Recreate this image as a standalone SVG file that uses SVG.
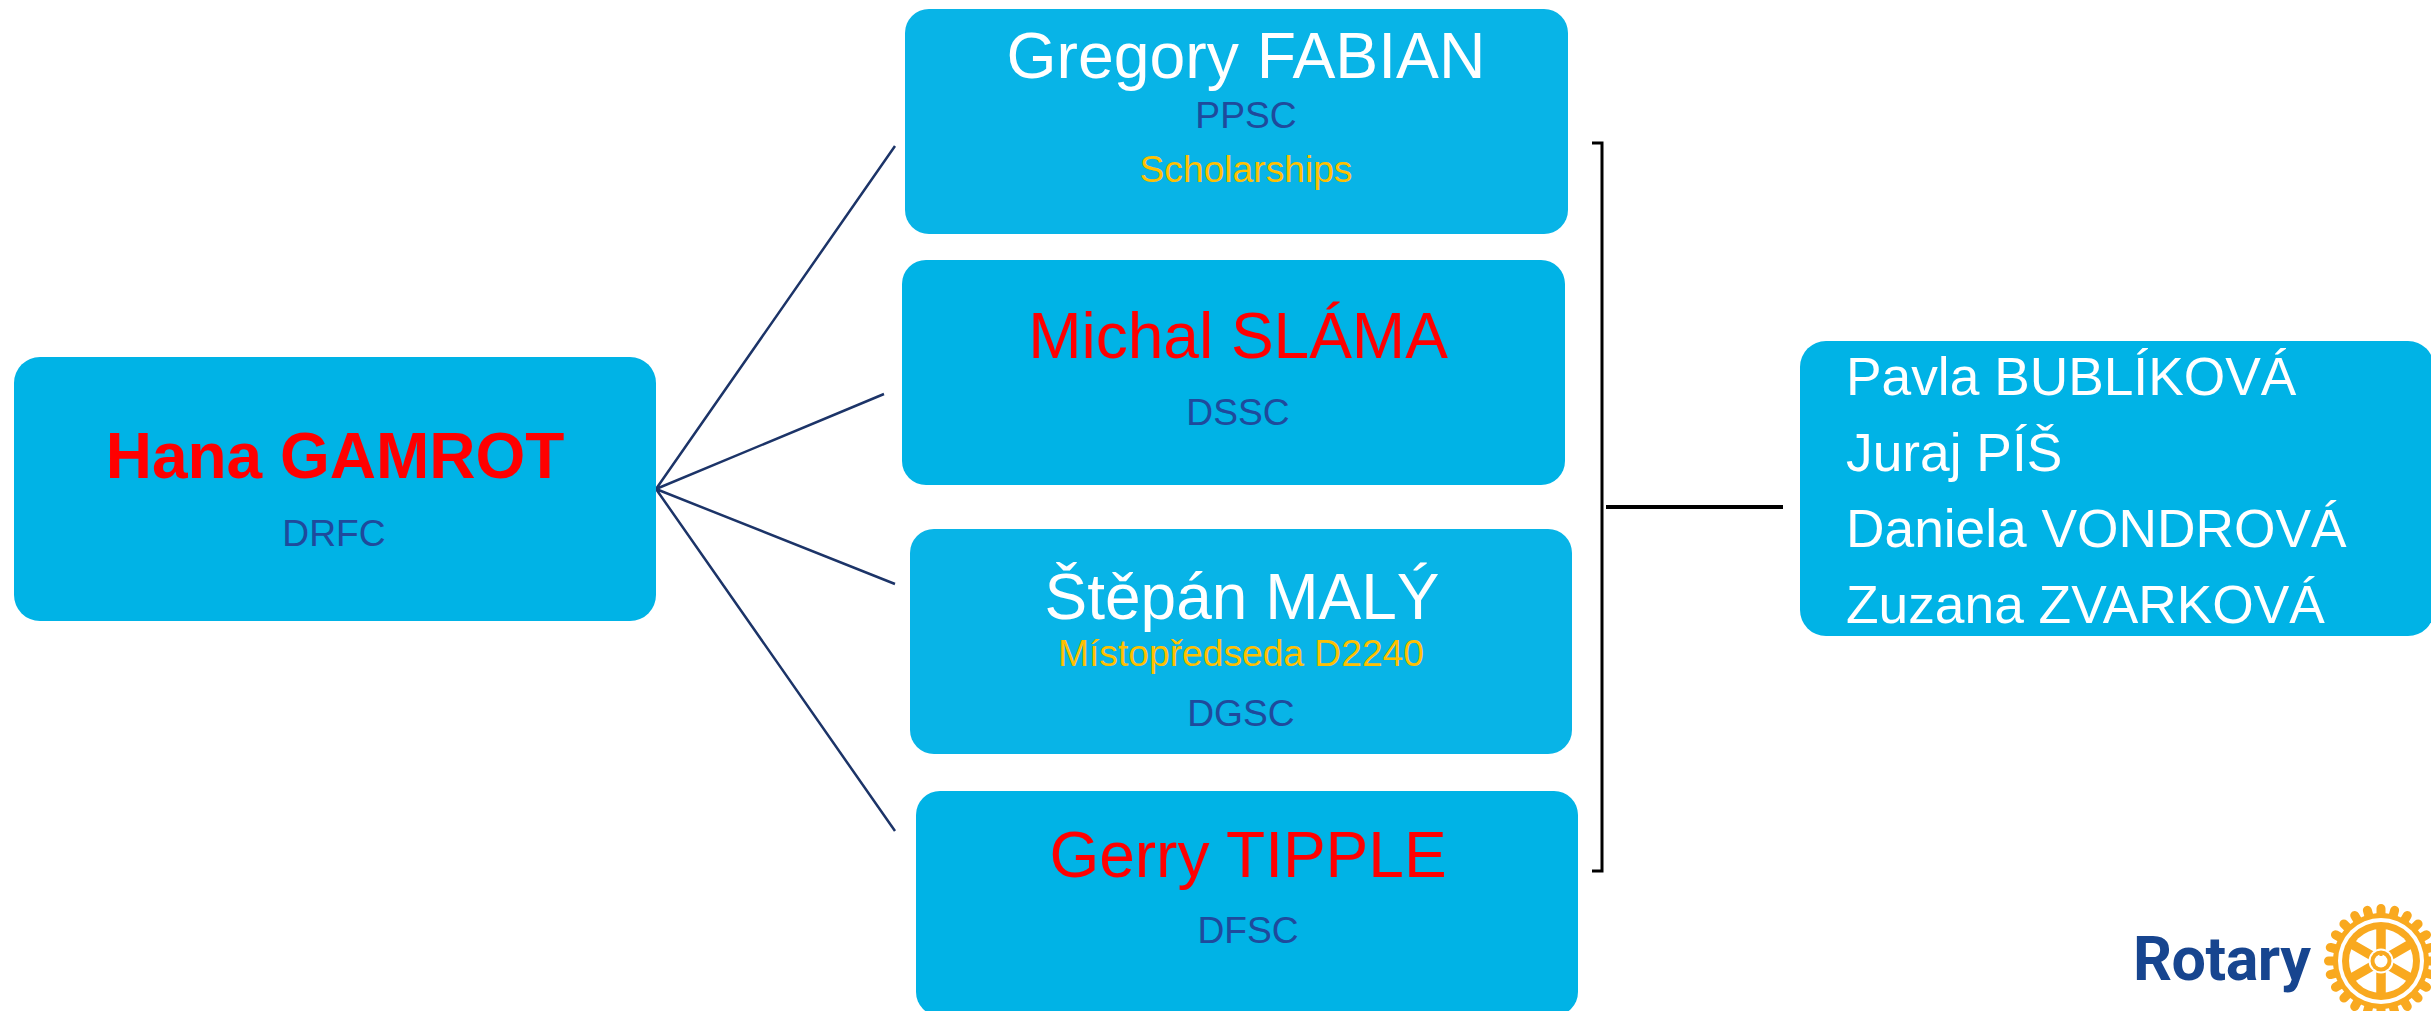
<svg xmlns="http://www.w3.org/2000/svg" width="2431" height="1011" viewBox="0 0 2431 1011">
<style>
text{font-family:"Liberation Sans",Arial,sans-serif}
.a{fill:#00b3e6}.b{fill:#08b4e7}
.n{font-size:64px;text-anchor:middle}
.s{font-size:37.2px;text-anchor:middle;fill:#1f4a9c}
.g{font-size:37.2px;text-anchor:middle;fill:#ffc000}
.r{fill:#ff0000}.w{fill:#ffffff}
.l{font-size:53.3px;fill:#ffffff}
.c{stroke:#1c3468;stroke-width:2.5;fill:none}
.k{stroke:#000;stroke-width:3;fill:none}
.o{fill:#f9a91f}.h{fill:#fff}
</style>
<g id="connectors">
<path class="c" d="M656 489L895 146M656 489L884 394M656 489L895 584M656 489L895 831"/>
<path class="k" d="M1592 143H1602V871H1592"/>
<path class="k" style="stroke-width:4" d="M1606 507H1783"/>
</g>
<g id="hana"><rect class="a" x="14" y="357" width="642" height="264" rx="26"/>
<text class="n r" x="335" y="478" font-weight="700">Hana GAMROT</text><text class="s" x="334" y="546">DRFC</text></g>
<g id="gregory"><rect class="b" x="905" y="9" width="663" height="225" rx="24"/>
<text class="n w" x="1246" y="78" style="font-size:64.3px">Gregory FABIAN</text><text class="s" x="1246" y="128">PPSC</text><text class="g" x="1246" y="182">Scholarships</text></g>
<g id="michal"><rect class="a" x="902" y="260" width="663" height="225" rx="24"/>
<text class="n r" x="1238" y="358">Michal SLÁMA</text><text class="s" x="1238" y="425">DSSC</text></g>
<g id="stepan"><rect class="b" x="910" y="529" width="662" height="225" rx="24"/>
<text class="n w" x="1242" y="619">Štěpán MALÝ</text><text class="g" x="1241" y="666">Místopředseda D2240</text><text class="s" x="1241" y="726">DGSC</text></g>
<g id="gerry"><rect class="a" x="916" y="791" width="662" height="225" rx="24"/>
<text class="n r" x="1248" y="877">Gerry TIPPLE</text><text class="s" x="1248" y="943">DFSC</text></g>
<g id="members"><rect class="a" x="1800" y="341" width="634" height="295" rx="26"/>
<text class="l" x="1846" y="395">Pavla BUBLÍKOVÁ</text><text class="l" x="1846" y="471">Juraj PÍŠ</text><text class="l" x="1846" y="547">Daniela VONDROVÁ</text><text class="l" x="1846" y="623">Zuzana ZVARKOVÁ</text></g>
<g id="logo">
<text x="2133" y="980" font-weight="700" font-size="61" letter-spacing="-0.5" fill="#17458f" style="font-family:Roboto,sans-serif">Rotary</text>
<g transform="translate(2381 961)">
<path stroke="#f9a91f" stroke-width="9" stroke-linecap="round" d="M52.5 0H-52.5M50.7 13.6L-50.7-13.6M45.5 26.25L-45.5-26.25M37.1 37.1L-37.1-37.1M26.25 45.5L-26.25-45.5M13.6 50.7L-13.6-50.7M0 52.5V-52.5M-13.6 50.7L13.6-50.7M-26.25 45.5L26.25-45.5M-37.1 37.1L37.1-37.1M-45.5 26.25L45.5-26.25M-50.7 13.6L50.7-13.6"/>
<circle class="o" r="48"/><circle class="h" r="43"/><circle class="o" r="39"/><circle class="h" r="32"/>
<path stroke="#f9a91f" stroke-width="9.5" d="M0-33V33M-28.6-16.5L28.6 16.5M-28.6 16.5L28.6-16.5"/>
<circle class="h" r="12.5"/><circle class="o" r="10.5"/><circle class="h" r="6.5"/><rect class="o" x="-1.5" y="-10" width="3" height="5"/>
</g></g>
</svg>
